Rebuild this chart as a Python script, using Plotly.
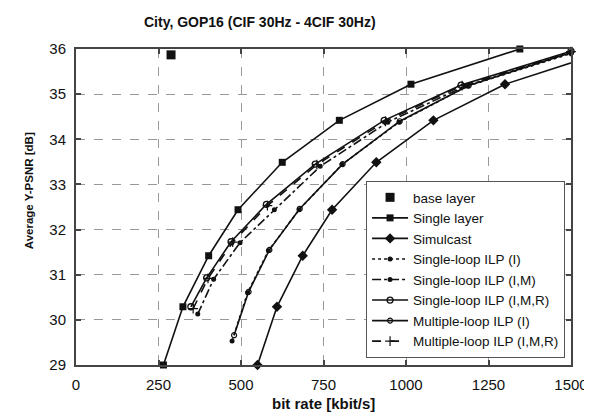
import plotly.graph_objects as go

# ---- data ----
base_x = [288]
base_y = [35.87]

single_x = [265, 324, 402, 491, 625, 798, 1015, 1345]
single_y = [29.0, 30.29, 31.42, 32.44, 33.49, 34.42, 35.22, 36.0]

simul_x = [550, 609, 687, 776, 910, 1083, 1300, 1630]
simul_y = [29.0, 30.29, 31.42, 32.44, 33.49, 34.42, 35.22, 36.0]

sl_i_x = [473, 520, 583, 676, 806, 979, 1187, 1500]
sl_i_y = [29.53, 30.6, 31.53, 32.44, 33.44, 34.38, 35.18, 35.9]

sl_im_x = [369, 417, 497, 601, 740, 945, 1180, 1500]
sl_im_y = [30.13, 30.9, 31.71, 32.44, 33.4, 34.38, 35.18, 35.93]

sl_imr_x = [348, 396, 470, 577, 725, 934, 1167, 1500]
sl_imr_y = [30.29, 30.93, 31.73, 32.56, 33.45, 34.42, 35.2, 35.95]

ml_i_x = [479, 523, 586, 678, 808, 981, 1190, 1500]
ml_i_y = [29.66, 30.62, 31.55, 32.46, 33.45, 34.4, 35.19, 35.92]

ml_imr_x = [355, 400, 475, 580, 730, 938, 1170, 1500]
ml_imr_y = [30.25, 30.92, 31.72, 32.53, 33.44, 34.4, 35.19, 35.94]

x_ticks = [0, 250, 500, 750, 1000, 1250, 1500]
y_ticks = [29, 30, 31, 32, 33, 34, 35, 36]

title = "City, GOP16 (CIF 30Hz - 4CIF 30Hz)"
x_title = "bit rate [kbit/s]"
y_title = "Average Y-PSNR [dB]"

FONT = "Liberation Sans, Arial, sans-serif"
BLACK = "#111111"

fig = go.Figure()

fig.add_trace(go.Scatter(x=base_x, y=base_y, mode="markers", name="base layer",
                         marker=dict(symbol="square", size=9, color=BLACK),
                         cliponaxis=False))

def add_line(xs, ys, name, dash, symbol, msize, mcolor, mline=None):
    fig.add_trace(go.Scatter(
        x=xs, y=ys, mode="lines+markers", name=name,
        line=dict(color=BLACK, width=1.6, dash=dash),
        marker=dict(symbol=symbol, size=msize, color=mcolor,
                    line=dict(color=BLACK, width=mline if mline else 0)),
        cliponaxis=False))

add_line(single_x, single_y, "Single layer", "solid", "square", 7, BLACK)
add_line(simul_x, simul_y, "Simulcast", "solid", "diamond", 8, BLACK)
add_line(sl_i_x, sl_i_y, "Single-loop ILP (I)", "dot", "circle", 5, BLACK)
add_line(sl_im_x, sl_im_y, "Single-loop ILP (I,M)", "dashdot", "circle", 5, BLACK)
add_line(sl_imr_x, sl_imr_y, "Single-loop ILP (I,M,R)", "solid", "circle-open", 6, BLACK, 1.3)
add_line(ml_i_x, ml_i_y, "Multiple-loop ILP (I)", "solid", "circle-open", 5, BLACK, 1.2)
add_line(ml_imr_x, ml_imr_y, "Multiple-loop ILP (I,M,R)", "dash", "cross-thin-open", 7, BLACK, 1.2)

axis_common = dict(
    showline=True, linecolor="#444444", linewidth=2, mirror="allticks",
    ticks="inside", ticklen=5, tickcolor="#444444", tickwidth=1.5,
    showgrid=True, gridcolor="#999999", griddash="dash", gridwidth=1,
    zeroline=False, tickfont=dict(family=FONT, size=15, color=BLACK),
    ticklabelstandoff=5,
)

fig.update_xaxes(range=[0, 1500], tickvals=x_ticks, ticktext=[str(v) for v in x_ticks],
                 **axis_common)
fig.update_yaxes(range=[29, 36], tickvals=y_ticks, ticktext=[str(v) for v in y_ticks],
                 **axis_common)

fig.update_layout(
    width=592, height=417,
    margin=dict(l=68, r=20, t=41, b=60),
    plot_bgcolor="white", paper_bgcolor="white",
    font=dict(family=FONT, color=BLACK),
    showlegend=True,
    legend=dict(x=0.988, y=0.022, xanchor="right", yanchor="bottom",
                bgcolor="white", bordercolor="#555555", borderwidth=1,
                font=dict(family=FONT, size=13.5, color=BLACK),
                tracegroupgap=0, itemwidth=36),
    annotations=[
        dict(text="<b>%s</b>" % title, xref="paper", yref="paper",
             x=0.372, y=1.0, yshift=27, xanchor="center", yanchor="middle",
             showarrow=False, font=dict(family=FONT, size=14, color=BLACK)),
        dict(text="<b>%s</b>" % x_title, xref="paper", yref="paper",
             x=0.5, y=0.0, yshift=-38, xanchor="center", yanchor="middle",
             showarrow=False, font=dict(family=FONT, size=15, color=BLACK)),
        dict(text="<b>%s</b>" % y_title, xref="paper", yref="paper",
             x=0.0, xshift=-47, y=0.55, xanchor="center", yanchor="middle",
             textangle=-90, showarrow=False,
             font=dict(family=FONT, size=11.5, color=BLACK)),
    ],
)

fig.write_html("out.html")
